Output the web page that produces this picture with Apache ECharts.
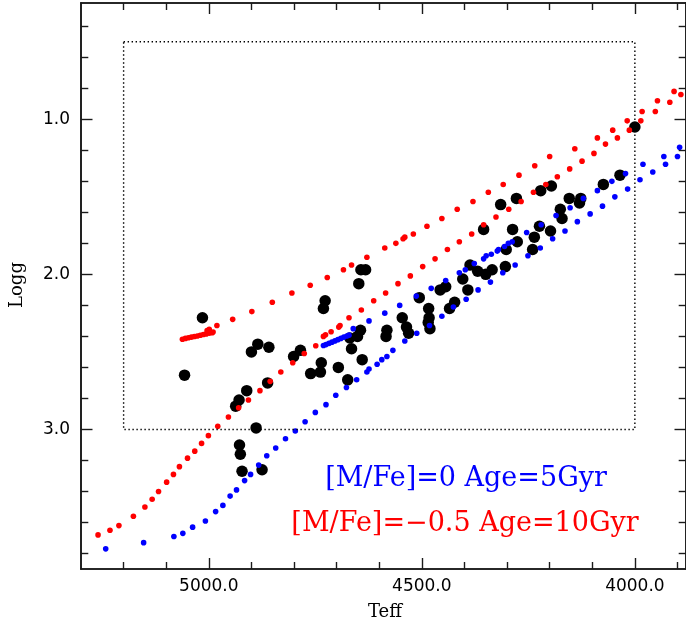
<!DOCTYPE html>
<html>
<head>
<meta charset="utf-8">
<script src="https://cdn.jsdelivr.net/npm/echarts@6/dist/echarts.min.js"></script>
<style>
html,body{margin:0;padding:0;background:#fff;}
#chart{width:686px;height:626px;}
</style>
</head>
<body>
<div id="chart"></div>
<script>
// ---- data (Teff, log g) ----
const redRgbTeff = [5260,5232,5211,5177,5150,5133,5118,5099,5083,5069,5050,5033,5017,5001,4979,4954,4930,4907,4880,4856,4831,4803,4776,4749,4731,4726,4713,4695,4692,4671,4642,4613,4585,4556,4527,4498,4469,4440,4412,4383,4355,4326,4296,4267,4238,4209,4182,4153,4124,4096,4069,4041,4013,3986,3952,3918,3892];
const redRgbLogg = [3.68,3.65,3.62,3.56,3.50,3.45,3.40,3.34,3.29,3.24,3.185,3.14,3.09,3.04,2.98,2.92,2.86,2.81,2.75,2.69,2.63,2.57,2.51,2.46,2.40,2.39,2.37,2.34,2.33,2.28,2.23,2.17,2.12,2.06,2.01,1.95,1.90,1.84,1.79,1.74,1.68,1.63,1.58,1.53,1.47,1.42,1.37,1.32,1.27,1.22,1.16,1.12,1.07,1.01,0.95,0.89,0.84];

const redAgbTeff = [5062,5055,5048,5041,5034,5027,5020,5013,5006,4999,4992,5004,4999,4990,4981,4944,4899,4851,4805,4762,4722,4684,4665,4629,4587,4561,4544,4540,4520,4488,4453,4417,4380,4344,4309,4272,4235,4200,4141,4088,4052,4018,3983,3947,3908];
const redAgbLogg = [2.418,2.413,2.409,2.405,2.401,2.397,2.393,2.388,2.384,2.379,2.376,2.363,2.354,2.372,2.33,2.29,2.24,2.18,2.12,2.07,2.02,1.97,1.94,1.89,1.83,1.80,1.77,1.76,1.74,1.69,1.64,1.58,1.53,1.47,1.42,1.36,1.30,1.24,1.19,1.12,1.07,1.01,0.95,0.88,0.82];

const blueRgbTeff = [5242,5153,5082,5061,5038,5008,4984,4967,4950,4935,4916,4902,4883,4864,4843,4820,4797,4774,4750,4725,4702,4677,4653,4629,4624,4605,4594,4582,4568,4540,4512,4482,4453,4426,4396,4368,4339,4310,4281,4251,4222,4193,4164,4135,4105,4076,4047,4017,3988,3958,3928,3900];
const blueRgbLogg = [3.77,3.73,3.69,3.67,3.63,3.59,3.53,3.49,3.43,3.39,3.33,3.29,3.23,3.17,3.12,3.06,3.01,2.95,2.89,2.84,2.78,2.73,2.68,2.63,2.61,2.58,2.55,2.53,2.49,2.43,2.38,2.33,2.27,2.21,2.16,2.10,2.05,1.99,1.94,1.88,1.83,1.77,1.72,1.66,1.61,1.56,1.50,1.45,1.39,1.34,1.29,1.24];

const blueAgbTeff = [4731,4725,4718,4711,4704,4697,4690,4683,4676,4671,4661,4624,4587,4552,4513,4478,4444,4412,4398,4377,4355,4349,4337,4323,4320,4306,4297,4288,4254,4220,4185,4152,4121,4088,4054,4022,3981,3932,3895];
const blueAgbLogg = [2.459,2.453,2.445,2.437,2.429,2.421,2.413,2.405,2.397,2.392,2.35,2.30,2.25,2.20,2.14,2.09,2.04,1.99,1.97,1.93,1.90,1.88,1.87,1.85,1.84,1.82,1.80,1.79,1.73,1.68,1.62,1.57,1.51,1.46,1.40,1.35,1.29,1.24,1.18];

const starTeff = [5015,5057,4885,4900,4859,4862,4911,4929,4937,4889,4928,4926,4922,4875,4801,4785,4761,4738,4736,4731,4727,4696,4674,4665,4669,4651,4644,4640,4648,4643,4632,4582,4584,4546,4536,4531,4506,4484,4483,4485,4481,4457,4444,4435,4423,4404,4392,4387,4369,4350,4335,4355,4304,4302,4276,4287,4240,4236,4224,4198,4315,4278,4221,4196,4175,4171,4154,4127,4130,4074,4035,4000];
const starLogg = [2.28,2.65,2.45,2.50,2.47,2.70,2.75,2.81,2.85,2.99,3.10,3.16,3.27,3.26,2.53,2.49,2.64,2.63,2.57,2.22,2.17,2.60,2.68,2.48,2.41,2.40,2.36,2.55,2.06,1.97,1.97,2.36,2.40,2.28,2.34,2.38,2.15,2.22,2.28,2.31,2.35,2.10,2.08,2.22,2.18,2.03,2.10,1.94,1.98,2.00,1.97,1.71,1.95,1.84,1.79,1.71,1.84,1.76,1.69,1.72,1.55,1.51,1.46,1.43,1.58,1.64,1.51,1.51,1.54,1.42,1.36,1.05];

const boxTeff = [5200, 4000, 4000, 5200, 5200];
const boxLogg = [0.5, 0.5, 3.0, 3.0, 0.5];

const xMajorTicks = [4000, 4500, 5000];
const xMinorTicks = [3900, 4100, 4200, 4300, 4400, 4600, 4700, 4800, 4900, 5100, 5200];
const yMajorTicks = [1.0, 2.0, 3.0];
const yMinorTicks = [0.4, 0.6, 0.8, 1.2, 1.4, 1.6, 1.8, 2.2, 2.4, 2.6, 2.8, 3.2, 3.4, 3.6, 3.8];

const legendBlue = '[M/Fe]=0 Age=5Gyr';
const legendRed = '[M/Fe]=\u22120.5 Age=10Gyr';
const xName = 'Teff';
const yName = 'Logg';

// ---- chart ----
const zip = (a, b) => a.map((v, i) => [v, b[i]]);
const frame = '#1a1a1a';
const X_MIN = 3880, X_MAX = 5300, Y_MIN = 0.25, Y_MAX = 3.9;

function xAx(pos, ticks, len, labels) {
  return {
    type: 'value', gridIndex: 0, position: pos, inverse: true, min: X_MIN, max: X_MAX,
    axisLine: { show: true, onZero: false, lineStyle: { color: frame, width: 1.6 } },
    axisTick: { show: true, inside: true, length: len, customValues: ticks, lineStyle: { color: frame, width: 1.4 } },
    axisLabel: labels ? {
      show: true, customValues: labels, margin: 9,
      formatter: v => Number(v).toFixed(1),
      fontFamily: 'DejaVu Sans', fontSize: 17, color: '#000'
    } : { show: false },
    splitLine: { show: false }
  };
}
function yAx(pos, ticks, len, labels) {
  return {
    type: 'value', gridIndex: 0, position: pos, inverse: true, min: Y_MIN, max: Y_MAX,
    axisLine: { show: true, onZero: false, lineStyle: { color: frame, width: 1.6 } },
    axisTick: { show: true, inside: true, length: len, customValues: ticks, lineStyle: { color: frame, width: 1.4 } },
    axisLabel: labels ? {
      show: true, customValues: labels, margin: 11,
      formatter: v => Number(v).toFixed(1),
      fontFamily: 'DejaVu Sans', fontSize: 17, color: '#000'
    } : { show: false },
    splitLine: { show: false }
  };
}

const chart = echarts.init(document.getElementById('chart'), null, { renderer: 'canvas' });
chart.setOption({
  animation: false,
  backgroundColor: '#fff',
  grid: { left: 81, right: -2, top: 3, bottom: 57, containLabel: false },
  xAxis: [
    xAx('bottom', xMajorTicks, 11, xMajorTicks),
    xAx('bottom', xMinorTicks, 7, null),
    xAx('top', xMajorTicks, 11, null),
    xAx('top', xMinorTicks, 7, null)
  ],
  yAxis: [
    yAx('left', yMajorTicks, 11.5, yMajorTicks),
    yAx('left', yMinorTicks, 7.3, null),
    yAx('right', yMajorTicks, 11.5, null),
    yAx('right', yMinorTicks, 7.3, null)
  ],
  series: [
    {
      type: 'line', data: zip(boxTeff, boxLogg), symbol: 'none', silent: true,
      lineStyle: { color: '#000', width: 1.4, type: [1.4, 2.6] }
    },
    {
      type: 'scatter', data: zip(starTeff, starLogg), symbolSize: 11.5,
      itemStyle: { color: '#000', opacity: 1 }
    },
    {
      type: 'scatter', data: zip(blueRgbTeff, blueRgbLogg), symbolSize: 5.6,
      itemStyle: { color: '#0000ff', opacity: 1 }
    },
    {
      type: 'scatter', data: zip(blueAgbTeff, blueAgbLogg), symbolSize: 5.6,
      itemStyle: { color: '#0000ff', opacity: 1 }
    },
    {
      type: 'scatter', data: zip(redRgbTeff, redRgbLogg), symbolSize: 5.6,
      itemStyle: { color: '#ff0000', opacity: 1 }
    },
    {
      type: 'scatter', data: zip(redAgbTeff, redAgbLogg), symbolSize: 5.6,
      itemStyle: { color: '#ff0000', opacity: 1 }
    }
  ],
  graphic: [
    {
      type: 'text', x: 385, y: 612,
      style: { text: xName, font: '18px "DejaVu Serif"', fill: '#000',
               align: 'center', verticalAlign: 'middle', textAlign: 'center', textVerticalAlign: 'middle' }
    },
    {
      type: 'text', x: 17, y: 285, rotation: Math.PI / 2,
      style: { text: yName, font: '18px "DejaVu Serif"', fill: '#000',
               align: 'center', verticalAlign: 'middle', textAlign: 'center', textVerticalAlign: 'middle' }
    },
    {
      type: 'text', x: 466, y: 479,
      style: { text: legendBlue, font: '27px "DejaVu Serif"', fill: '#0000ff',
               align: 'center', verticalAlign: 'middle', textAlign: 'center', textVerticalAlign: 'middle' }
    },
    {
      type: 'text', x: 465, y: 524,
      style: { text: legendRed, font: '27px "DejaVu Serif"', fill: '#ff0000',
               align: 'center', verticalAlign: 'middle', textAlign: 'center', textVerticalAlign: 'middle' }
    }
  ]
});
</script>
</body>
</html>
